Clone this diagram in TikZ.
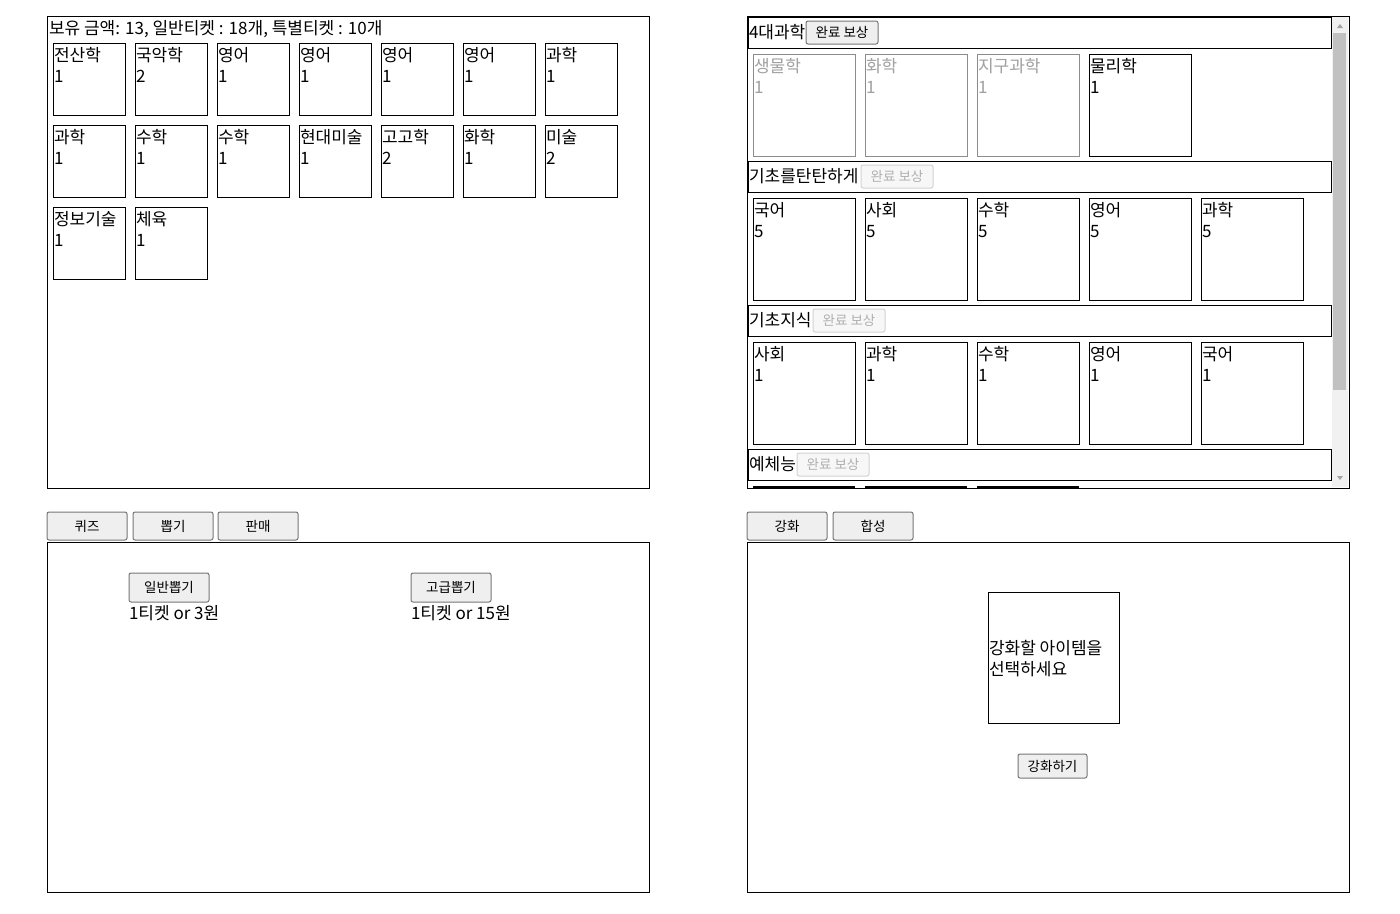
\documentclass[tikz,border=0pt]{standalone}
\usepackage{fontspec}
\setmainfont{Noto Sans CJK KR}
\definecolor{btnfill}{HTML}{EFEFEF}
\definecolor{btnline}{HTML}{767676}
\definecolor{disfill}{HTML}{F7F7F7}
\definecolor{disline}{HTML}{D3D3D3}
\definecolor{distext}{HTML}{B0B0B0}
\definecolor{dimline}{HTML}{8C8C8C}
\definecolor{dimtext}{HTML}{A0A0A0}
\definecolor{track}{HTML}{F1F1F1}
\definecolor{thumb}{HTML}{C1C1C1}
\definecolor{arrowc}{HTML}{A3A3A3}
\newcommand\itemcard[7][cardN]{%
  \node[#1box, minimum width=#5pt, minimum height=#5pt, anchor=north west] (#2) at (#3,#4) {};
  \node[txt, #1txt] (#2-l) at (#3+1,#4+18) {#6};
  \node[txt, #1txt] (#2-n) at (#3+1,#4+39) {#7};
}
\begin{document}
\begin{tikzpicture}[x=1pt,y=-1pt,line width=1pt,
  every node/.style={inner sep=0pt,outer sep=0pt},
  txt/.style={font=\fontsize{17}{20}\selectfont,anchor=base west},
  cardNbox/.style={draw=black,line width=1pt},
  cardNtxt/.style={text=black},
  cardDbox/.style={draw=dimline,line width=1pt},
  cardDtxt/.style={text=dimtext},
  panel/.style={draw=black,line width=1pt},
  hdrbox/.style={draw=black,line width=1pt,minimum width=583pt,minimum height=31pt,anchor=north west},
  btn/.style={draw=btnline,fill=btnfill,rounded corners=2pt,font=\fontsize{13.5}{15}\selectfont,anchor=north west,text=black},
  disbtn/.style={draw=disline,fill=disfill,rounded corners=2pt,font=\fontsize{13.5}{15}\selectfont,anchor=north west,text=distext},
]
\useasboundingbox (0,0) rectangle (1400,913);
\fill[white] (0,0) rectangle (1400,913);

% ---------- top-left panel ----------
\draw[panel] (47,16) rectangle (649,488);
\node[txt] (money) at (49,34) {보유 금액: 13, 일반티켓 : 18개, 특별티켓 : 10개};
\itemcard{a1}{53}{43}{72}{전산학}{1}
\itemcard{a2}{135}{43}{72}{국악학}{2}
\itemcard{a3}{217}{43}{72}{영어}{1}
\itemcard{a4}{299}{43}{72}{영어}{1}
\itemcard{a5}{381}{43}{72}{영어}{1}
\itemcard{a6}{463}{43}{72}{영어}{1}
\itemcard{a7}{545}{43}{72}{과학}{1}
\itemcard{b1}{53}{125}{72}{과학}{1}
\itemcard{b2}{135}{125}{72}{수학}{1}
\itemcard{b3}{217}{125}{72}{수학}{1}
\itemcard{b4}{299}{125}{72}{현대미술}{1}
\itemcard{b5}{381}{125}{72}{고고학}{2}
\itemcard{b6}{463}{125}{72}{화학}{1}
\itemcard{b7}{545}{125}{72}{미술}{2}
\itemcard{c1}{53}{207}{72}{정보기술}{1}
\itemcard{c2}{135}{207}{72}{체육}{1}

% ---------- top-right panel ----------
\draw[panel] (747,16) rectangle (1349,488);
% scrollbar
\fill[track] (1332,17) rectangle (1348,487);
\fill[thumb] (1333,33) rectangle (1346,390);
\fill[arrowc] (1337,28) -- (1343,28) -- (1340,24) -- cycle;
\fill[arrowc] (1337,476) -- (1343,476) -- (1340,480) -- cycle;
% section 1
\node[hdrbox] (h1) at (748,17) {};
\node[txt] (h1t) at (749,38) {4대과학};
\node[btn,minimum width=72pt,minimum height=23pt] (h1b) at (806,21) {완료 보상};
\itemcard[cardD]{s11}{753}{54}{102}{생물학}{1}
\itemcard[cardD]{s12}{865}{54}{102}{화학}{1}
\itemcard[cardD]{s13}{977}{54}{102}{지구과학}{1}
\itemcard{s14}{1089}{54}{102}{물리학}{1}
% section 2
\node[hdrbox] (h2) at (748,161) {};
\node[txt] (h2t) at (749,182) {기초를탄탄하게};
\node[disbtn,minimum width=72pt,minimum height=23pt] (h2b) at (861,165) {완료 보상};
\itemcard{s21}{753}{198}{102}{국어}{5}
\itemcard{s22}{865}{198}{102}{사회}{5}
\itemcard{s23}{977}{198}{102}{수학}{5}
\itemcard{s24}{1089}{198}{102}{영어}{5}
\itemcard{s25}{1201}{198}{102}{과학}{5}
% section 3
\node[hdrbox] (h3) at (748,305) {};
\node[txt] (h3t) at (749,326) {기초지식};
\node[disbtn,minimum width=72pt,minimum height=23pt] (h3b) at (813,309) {완료 보상};
\itemcard{s31}{753}{342}{102}{사회}{1}
\itemcard{s32}{865}{342}{102}{과학}{1}
\itemcard{s33}{977}{342}{102}{수학}{1}
\itemcard{s34}{1089}{342}{102}{영어}{1}
\itemcard{s35}{1201}{342}{102}{국어}{1}
% section 4 (cut off)
\node[hdrbox] (h4) at (748,449) {};
\node[txt] (h4t) at (749,470) {예체능};
\node[disbtn,minimum width=72pt,minimum height=23pt] (h4b) at (797,453) {완료 보상};
\draw[line width=2pt] (753,487) -- (855,487);
\draw[line width=2pt] (865,487) -- (967,487);
\draw[line width=2pt] (977,487) -- (1079,487);

% ---------- bottom-left panel ----------
\node[btn,minimum width=80pt,minimum height=28pt] (tquiz) at (47,512) {퀴즈};
\node[btn,minimum width=80pt,minimum height=28pt] (tdraw) at (133,512) {뽑기};
\node[btn,minimum width=80pt,minimum height=28pt] (tsell) at (218,512) {판매};
\draw[panel] (47,542) rectangle (649,892);
\node[btn,minimum width=80pt,minimum height=29pt] (gnormal) at (129,573) {일반뽑기};
\node[txt] (gnormalt) at (129,619) {1티켓 or 3원};
\node[btn,minimum width=80pt,minimum height=29pt] (gspecial) at (411,573) {고급뽑기};
\node[txt] (gspecialt) at (411,619) {1티켓 or 15원};

% ---------- bottom-right panel ----------
\node[btn,minimum width=80pt,minimum height=28pt] (tup) at (747,512) {강화};
\node[btn,minimum width=80pt,minimum height=28pt] (tmix) at (833,512) {합성};
\draw[panel] (747,542) rectangle (1349,892);
\node[cardNbox,minimum width=131pt,minimum height=131pt,anchor=north west] (slot) at (988,592) {};
\node[txt] (slot1) at (989,654) {강화할 아이템을};
\node[txt] (slot2) at (989,675) {선택하세요};
\node[btn,minimum width=69pt,minimum height=24pt] (upbtn) at (1018,754) {강화하기};
\end{tikzpicture}
\end{document}
